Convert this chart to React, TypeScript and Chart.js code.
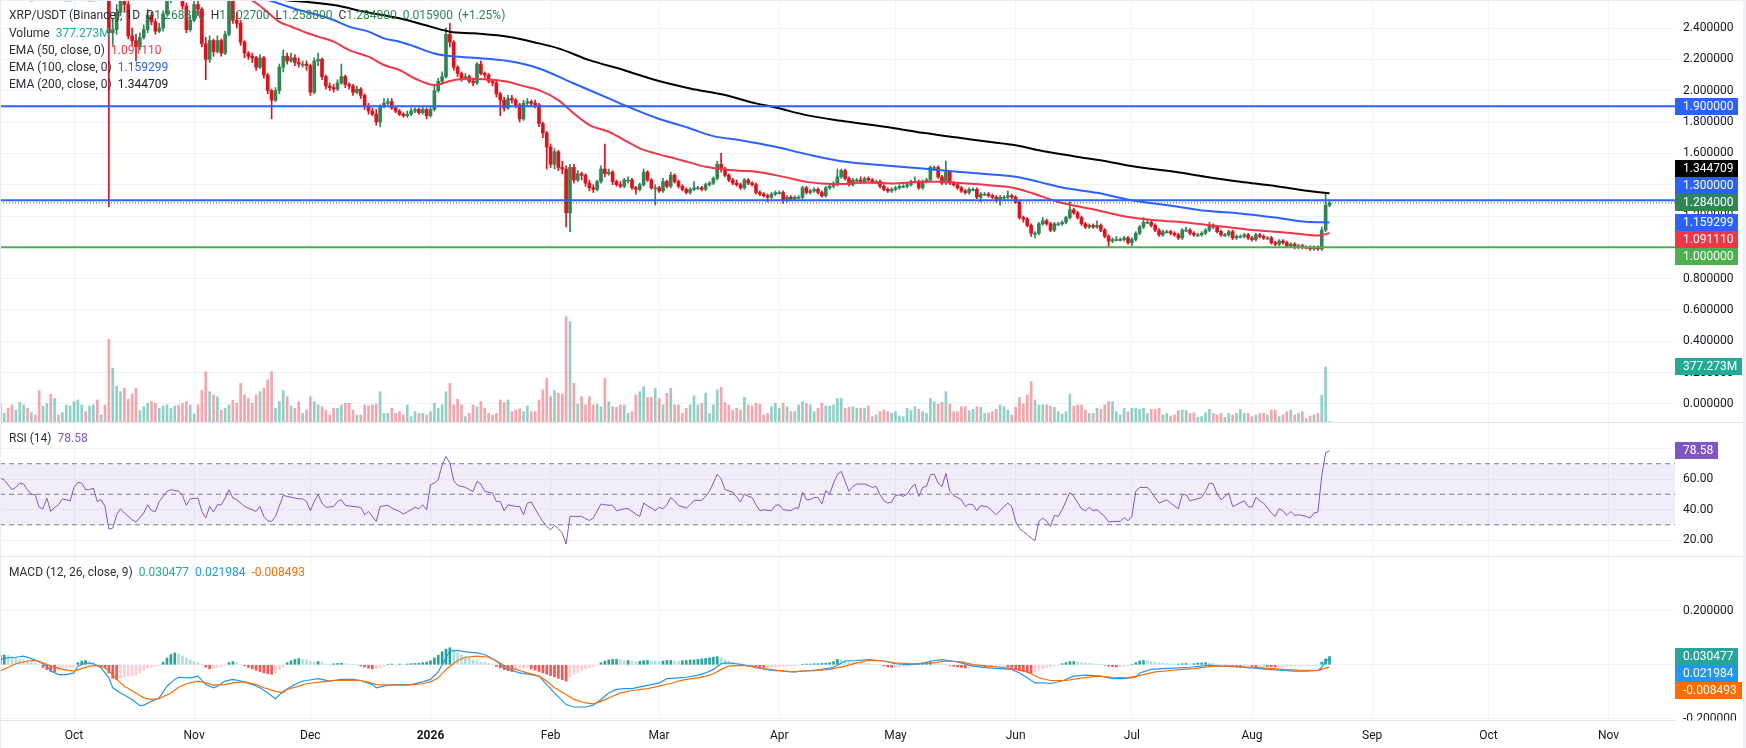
import React, { useEffect, useRef } from 'react';
import { Chart, registerables } from 'chart.js';

Chart.register(...registerables);

// ---------------- data (day 0 = 2025-10-01, first candle = 2025-09-12) ----------------
const FIRST_DAY = -19;
const FIRST_OPEN = 3.0;

const closes = [
  3.02, 3.07, 3.03, 2.98, 3.02, 3.05, 3.10, 2.98, 2.98, 2.95,
  2.85, 2.87, 2.93, 2.74, 2.82, 2.80, 2.85, 2.85, 2.85, 2.95,
  3.00, 3.02, 2.97, 2.97, 2.97, 2.82, 2.86, 2.83, 2.37, 2.39,
  2.50, 2.62, 2.55, 2.35, 2.32, 2.28, 2.34, 2.39, 2.48, 2.44,
  2.38, 2.40, 2.49, 2.58, 2.62, 2.65, 2.62, 2.54, 2.39, 2.45,
  2.55, 2.52, 2.30, 2.20, 2.32, 2.25, 2.32, 2.24, 2.36, 2.57,
  2.45, 2.43, 2.31, 2.24, 2.22, 2.21, 2.15, 2.21, 2.10, 2.00,
  1.94, 2.00, 2.15, 2.22, 2.19, 2.21, 2.18, 2.17, 2.17, 2.16,
  1.99, 2.19, 2.20, 2.09, 2.03, 2.02, 2.01, 2.05, 2.09, 2.04,
  2.03, 1.99, 2.01, 1.97, 1.90, 1.87, 1.85, 1.80, 1.90, 1.92,
  1.93, 1.89, 1.87, 1.85, 1.84, 1.85, 1.87, 1.88, 1.86, 1.88,
  1.84, 1.88, 2.00, 2.06, 2.09, 2.36, 2.31, 2.15, 2.11, 2.08,
  2.09, 2.06, 2.05, 2.17, 2.11, 2.10, 2.06, 2.05, 1.98, 1.94,
  1.89, 1.95, 1.94, 1.91, 1.82, 1.92, 1.93, 1.92, 1.91, 1.79,
  1.73, 1.64, 1.53, 1.61, 1.51, 1.50, 1.22, 1.51, 1.43, 1.47,
  1.46, 1.41, 1.38, 1.37, 1.42, 1.50, 1.47, 1.48, 1.42, 1.40,
  1.39, 1.43, 1.43, 1.38, 1.37, 1.40, 1.48, 1.43, 1.38, 1.38,
  1.36, 1.42, 1.39, 1.46, 1.42, 1.39, 1.37, 1.35, 1.37, 1.38,
  1.38, 1.37, 1.40, 1.41, 1.44, 1.53, 1.50, 1.46, 1.43, 1.41,
  1.40, 1.38, 1.43, 1.41, 1.40, 1.35, 1.34, 1.33, 1.32, 1.34,
  1.35, 1.35, 1.30, 1.32, 1.31, 1.32, 1.32, 1.38, 1.35, 1.36,
  1.37, 1.35, 1.33, 1.38, 1.39, 1.40, 1.45, 1.49, 1.44, 1.40,
  1.43, 1.43, 1.42, 1.44, 1.43, 1.42, 1.42, 1.39, 1.37, 1.36,
  1.37, 1.38, 1.39, 1.39, 1.40, 1.42, 1.42, 1.38, 1.42, 1.43,
  1.51, 1.51, 1.45, 1.41, 1.48, 1.41, 1.40, 1.38, 1.36, 1.35,
  1.37, 1.37, 1.32, 1.34, 1.34, 1.33, 1.32, 1.30, 1.32, 1.32,
  1.33, 1.32, 1.29, 1.19, 1.18, 1.14, 1.09, 1.09, 1.15, 1.17,
  1.15, 1.11, 1.15, 1.15, 1.16, 1.19, 1.24, 1.22, 1.19, 1.15,
  1.13, 1.14, 1.13, 1.14, 1.11, 1.07, 1.04, 1.05, 1.05, 1.05,
  1.06, 1.03, 1.05, 1.09, 1.13, 1.16, 1.16, 1.14, 1.11, 1.08,
  1.10, 1.10, 1.09, 1.08, 1.06, 1.11, 1.11, 1.09, 1.08, 1.08,
  1.09, 1.11, 1.14, 1.13, 1.10, 1.08, 1.08, 1.10, 1.06, 1.07,
  1.07, 1.08, 1.06, 1.05, 1.08, 1.07, 1.06, 1.06, 1.03, 1.02,
  1.04, 1.03, 1.01, 1.02, 1.00, 1.01, 1.00, 1.00, 0.99, 1.00,
  0.99, 1.11, 1.2688, 1.284,
];

const highs = [
  3.06, 3.10, 3.09, 3.05, 3.05, 3.08, 3.13, 3.12, 3.02, 3.00,
  2.97, 2.92, 2.96, 2.95, 2.85, 2.86, 2.88, 2.90, 2.89, 2.97,
  3.04, 3.06, 3.05, 3.01, 3.03, 2.99, 2.89, 2.88, 2.86, 2.46,
  2.55, 2.66, 2.65, 2.58, 2.40, 2.36, 2.37, 2.42, 2.52, 2.50,
  2.46, 2.43, 2.51, 2.62, 2.68, 2.70, 2.68, 2.64, 2.56, 2.48,
  2.62, 2.60, 2.53, 2.34, 2.35, 2.33, 2.35, 2.33, 2.38, 2.60,
  2.58, 2.50, 2.45, 2.32, 2.25, 2.24, 2.22, 2.23, 2.22, 2.11,
  2.01, 2.02, 2.17, 2.26, 2.24, 2.24, 2.23, 2.21, 2.19, 2.19,
  2.17, 2.21, 2.24, 2.21, 2.10, 2.05, 2.04, 2.07, 2.17, 2.10,
  2.05, 2.04, 2.03, 2.02, 1.98, 1.92, 1.89, 1.88, 1.91, 1.95,
  1.95, 1.95, 1.90, 1.88, 1.86, 1.87, 1.89, 1.89, 1.89, 1.90,
  1.89, 1.90, 2.03, 2.08, 2.12, 2.40, 2.43, 2.32, 2.16, 2.12,
  2.11, 2.10, 2.08, 2.18, 2.19, 2.12, 2.11, 2.07, 2.06, 1.99,
  1.96, 1.97, 1.97, 1.95, 1.92, 1.94, 1.95, 1.94, 1.94, 1.92,
  1.80, 1.74, 1.66, 1.63, 1.62, 1.55, 1.52, 1.53, 1.53, 1.49,
  1.48, 1.47, 1.43, 1.40, 1.43, 1.52, 1.66, 1.50, 1.49, 1.43,
  1.42, 1.44, 1.45, 1.44, 1.39, 1.41, 1.50, 1.49, 1.44, 1.40,
  1.39, 1.44, 1.43, 1.48, 1.47, 1.43, 1.40, 1.38, 1.38, 1.42,
  1.39, 1.39, 1.41, 1.42, 1.45, 1.55, 1.60, 1.51, 1.47, 1.44,
  1.43, 1.41, 1.44, 1.44, 1.42, 1.41, 1.36, 1.35, 1.34, 1.35,
  1.36, 1.36, 1.36, 1.33, 1.33, 1.33, 1.33, 1.39, 1.39, 1.37,
  1.38, 1.38, 1.36, 1.39, 1.40, 1.42, 1.50, 1.50, 1.50, 1.45,
  1.44, 1.44, 1.45, 1.45, 1.45, 1.44, 1.43, 1.43, 1.40, 1.38,
  1.38, 1.39, 1.40, 1.40, 1.41, 1.43, 1.45, 1.43, 1.43, 1.44,
  1.52, 1.52, 1.52, 1.46, 1.55, 1.49, 1.42, 1.41, 1.39, 1.37,
  1.38, 1.38, 1.38, 1.35, 1.35, 1.35, 1.34, 1.33, 1.33, 1.33,
  1.36, 1.34, 1.33, 1.30, 1.20, 1.19, 1.15, 1.10, 1.16, 1.19,
  1.18, 1.16, 1.16, 1.16, 1.17, 1.20, 1.29, 1.25, 1.23, 1.20,
  1.16, 1.15, 1.15, 1.17, 1.15, 1.12, 1.08, 1.06, 1.07, 1.06,
  1.07, 1.07, 1.06, 1.10, 1.14, 1.19, 1.18, 1.17, 1.15, 1.12,
  1.11, 1.11, 1.11, 1.10, 1.09, 1.12, 1.13, 1.12, 1.10, 1.09,
  1.10, 1.12, 1.16, 1.15, 1.14, 1.11, 1.09, 1.11, 1.11, 1.08,
  1.08, 1.09, 1.09, 1.07, 1.09, 1.09, 1.08, 1.07, 1.07, 1.04,
  1.05, 1.05, 1.04, 1.03, 1.03, 1.02, 1.02, 1.01, 1.01, 1.01,
  1.01, 1.13, 1.345, 1.3027,
];

const lows = [
  2.97, 3.00, 3.00, 2.95, 2.96, 3.00, 3.03, 2.95, 2.94, 2.91,
  2.80, 2.82, 2.84, 2.69, 2.71, 2.77, 2.78, 2.81, 2.80, 2.83,
  2.93, 2.97, 2.95, 2.93, 2.94, 2.80, 2.79, 2.78, 1.26, 2.29,
  2.36, 2.48, 2.50, 2.33, 2.29, 2.19, 2.26, 2.33, 2.37, 2.42,
  2.36, 2.37, 2.38, 2.48, 2.56, 2.60, 2.58, 2.52, 2.37, 2.38,
  2.44, 2.48, 2.28, 2.07, 2.18, 2.22, 2.24, 2.22, 2.23, 2.35,
  2.43, 2.40, 2.29, 2.21, 2.20, 2.18, 2.13, 2.14, 2.08, 1.98,
  1.82, 1.93, 1.98, 2.12, 2.17, 2.18, 2.16, 2.15, 2.15, 2.13,
  1.97, 1.98, 2.16, 2.07, 2.01, 2.00, 1.99, 2.00, 2.04, 2.02,
  2.01, 1.97, 1.98, 1.95, 1.88, 1.85, 1.84, 1.78, 1.77, 1.89,
  1.91, 1.88, 1.86, 1.84, 1.83, 1.83, 1.84, 1.86, 1.85, 1.85,
  1.82, 1.83, 1.87, 1.99, 2.04, 2.08, 2.28, 2.13, 2.09, 2.06,
  2.07, 2.05, 2.03, 2.04, 2.10, 2.08, 2.05, 2.03, 1.96, 1.84,
  1.87, 1.88, 1.92, 1.89, 1.80, 1.81, 1.90, 1.90, 1.89, 1.77,
  1.70, 1.50, 1.51, 1.50, 1.49, 1.47, 1.13, 1.10, 1.41, 1.42,
  1.43, 1.39, 1.36, 1.35, 1.36, 1.41, 1.45, 1.46, 1.40, 1.39,
  1.38, 1.38, 1.41, 1.37, 1.34, 1.36, 1.39, 1.42, 1.37, 1.27,
  1.35, 1.35, 1.38, 1.38, 1.41, 1.38, 1.36, 1.34, 1.34, 1.36,
  1.37, 1.36, 1.36, 1.39, 1.40, 1.43, 1.48, 1.45, 1.42, 1.40,
  1.39, 1.37, 1.37, 1.40, 1.39, 1.34, 1.33, 1.32, 1.29, 1.31,
  1.33, 1.34, 1.28, 1.29, 1.30, 1.30, 1.31, 1.31, 1.34, 1.34,
  1.35, 1.34, 1.32, 1.32, 1.37, 1.38, 1.39, 1.44, 1.43, 1.39,
  1.39, 1.42, 1.41, 1.41, 1.42, 1.41, 1.41, 1.38, 1.36, 1.35,
  1.35, 1.36, 1.37, 1.38, 1.38, 1.39, 1.41, 1.37, 1.37, 1.41,
  1.42, 1.49, 1.44, 1.40, 1.40, 1.40, 1.39, 1.37, 1.35, 1.34,
  1.34, 1.36, 1.31, 1.29, 1.33, 1.32, 1.31, 1.29, 1.27, 1.30,
  1.31, 1.31, 1.28, 1.18, 1.16, 1.13, 1.07, 1.06, 1.08, 1.14,
  1.14, 1.10, 1.10, 1.14, 1.14, 1.15, 1.18, 1.21, 1.18, 1.14,
  1.12, 1.12, 1.12, 1.12, 1.10, 1.06, 1.00, 1.03, 1.04, 1.04,
  1.04, 1.02, 1.01, 1.04, 1.08, 1.12, 1.15, 1.13, 1.10, 1.07,
  1.07, 1.09, 1.08, 1.07, 1.05, 1.05, 1.10, 1.08, 1.07, 1.07,
  1.07, 1.08, 1.10, 1.12, 1.09, 1.07, 1.07, 1.07, 1.05, 1.05,
  1.06, 1.06, 1.05, 1.04, 1.04, 1.06, 1.05, 1.05, 1.02, 1.01,
  1.01, 1.02, 1.00, 1.00, 0.99, 0.99, 0.99, 0.99, 0.98, 0.98,
  0.98, 0.98, 1.10, 1.2588,
];

// volume, millions
const volumes = [
  124, 59, 94, 117, 82, 133, 117, 94, 64, 48,
  215, 110, 128, 192, 162, 48, 64, 117, 110, 140,
  151, 117, 71, 110, 117, 151, 48, 117, 567, 368,
  247, 208, 231, 156, 192, 231, 78, 105, 128, 140,
  128, 94, 110, 117, 94, 110, 117, 128, 140, 117,
  55, 117, 215, 345, 208, 185, 174, 82, 94, 117,
  150, 128, 265, 185, 162, 128, 185, 208, 231, 288,
  345, 94, 140, 215, 174, 110, 94, 140, 59, 82,
  174, 140, 117, 105, 82, 48, 94, 94, 117, 128,
  128, 82, 48, 48, 117, 110, 117, 123, 208, 59,
  59, 94, 59, 71, 48, 117, 37, 71, 59, 59,
  48, 71, 128, 94, 117, 208, 265, 117, 156, 117,
  37, 59, 117, 105, 140, 94, 59, 48, 59, 151,
  133, 151, 71, 82, 90, 71, 110, 71, 71, 151,
  220, 300, 174, 215, 197, 192, 723, 688, 265, 123,
  174, 117, 174, 117, 123, 105, 300, 140, 105, 101,
  117, 117, 59, 71, 185, 208, 242, 169, 169, 231,
  162, 117, 197, 231, 117, 117, 59, 94, 117, 178,
  117, 128, 197, 59, 117, 220, 238, 133, 117, 82,
  94, 82, 169, 117, 110, 128, 123, 48, 59, 105,
  128, 94, 128, 105, 71, 71, 117, 140, 128, 117,
  71, 94, 128, 110, 110, 117, 162, 162, 94, 101,
  105, 94, 94, 94, 110, 37, 48, 71, 82, 71,
  59, 71, 41, 37, 94, 78, 105, 87, 71, 59,
  162, 140, 123, 133, 208, 123, 71, 71, 105, 105,
  78, 87, 105, 101, 59, 64, 71, 87, 117, 105,
  82, 48, 101, 169, 123, 185, 277, 151, 117, 117,
  117, 110, 101, 71, 55, 71, 192, 110, 117, 117,
  82, 59, 59, 94, 87, 117, 140, 140, 71, 48,
  94, 71, 94, 94, 87, 94, 59, 87, 87, 94,
  48, 59, 41, 48, 78, 82, 78, 59, 64, 32,
  37, 64, 87, 59, 48, 59, 32, 59, 48, 59,
  87, 59, 59, 37, 48, 59, 59, 48, 82, 82,
  37, 48, 71, 82, 48, 59, 71, 25, 41, 48,
  59, 185, 377.273, 3,
];

// EMA lines: [day, value]
const ema50: [number, number][] = [
  [-19, 2.80], [0, 2.76], [20, 2.70], [35, 2.64], [44, 2.60], [47, 2.56], [50, 2.50], [53, 2.44],
  [56, 2.41], [60, 2.37], [63, 2.345], [67, 2.313], [71, 2.259], [76, 2.217], [80, 2.164], [84, 2.132],
  [88, 2.078], [93, 2.036], [97, 2.062], [101, 2.076], [107, 2.072], [112, 2.057], [116, 2.029],
  [120, 2.004], [125, 1.940], [129, 1.855], [133, 1.781], [138, 1.738], [142, 1.685], [146, 1.632],
  [150, 1.600], [155, 1.568], [159, 1.541], [163, 1.514], [168, 1.497], [172, 1.489], [176, 1.482],
  [181, 1.461], [185, 1.440], [189, 1.418], [193, 1.408], [198, 1.404], [202, 1.412], [206, 1.412],
  [211, 1.408], [219, 1.418], [224, 1.418], [228, 1.412], [236, 1.397], [242, 1.382], [247, 1.348],
  [254, 1.290], [262, 1.248], [273, 1.190], [279, 1.173], [288, 1.156], [297, 1.131], [305, 1.109],
  [314, 1.092], [321, 1.075], [324, 1.09111],
];
const ema100: [number, number][] = [
  [-19, 2.75], [20, 2.68], [40, 2.61], [50, 2.579], [54, 2.547], [58, 2.515], [63, 2.483],
  [67, 2.451], [71, 2.409], [76, 2.377], [80, 2.334], [84, 2.313], [88, 2.281], [93, 2.238],
  [97, 2.221], [103, 2.210], [112, 2.189], [120, 2.142], [129, 2.046], [138, 1.951], [142, 1.908],
  [150, 1.829], [159, 1.759], [165, 1.710], [172, 1.684], [181, 1.642], [189, 1.595], [198, 1.550],
  [211, 1.520], [219, 1.503], [228, 1.482], [236, 1.467], [243, 1.450], [249, 1.418], [255, 1.382],
  [264, 1.348], [273, 1.301], [284, 1.263], [292, 1.233], [301, 1.216], [310, 1.190], [318, 1.163],
  [324, 1.159299],
];
const ema200: [number, number][] = [
  [-19, 2.66], [0, 2.645], [20, 2.625], [40, 2.60], [54, 2.579], [67, 2.547], [75, 2.504],
  [84, 2.462], [92, 2.409], [97, 2.377], [103, 2.366], [112, 2.345], [120, 2.302], [125, 2.270],
  [133, 2.195], [142, 2.131], [150, 2.068], [159, 2.014], [168, 1.972], [176, 1.919], [181, 1.893],
  [189, 1.844], [198, 1.808], [211, 1.763], [219, 1.731], [228, 1.701], [236, 1.674], [243, 1.652],
  [249, 1.620], [258, 1.582], [267, 1.546], [274, 1.514], [284, 1.482], [292, 1.450], [301, 1.418],
  [310, 1.391], [318, 1.361], [324, 1.344709],
];

// RSI(14): [day, value]
const rsi: [number, number][] = [
  [-19, 60.6], [-18, 59.5], [-16, 53.0], [-15, 54.5], [-14, 57.3], [-13, 56.7], [-12, 53.0], [-11, 50.1],
  [-10, 49.7], [-9, 41.4], [-8, 40.5], [-7, 47.5], [-6, 38.7], [-5, 41.4], [-4, 43.1], [-3, 47.0],
  [-1, 45.7], [0, 54.5], [1, 57.8], [2, 57.3], [3, 53.0], [4, 53.0], [5, 54.0], [6, 45.3], [7, 46.4],
  [8, 42.0], [9, 27.2], [10, 27.8], [11, 36.6], [12, 40.5], [13, 37.7], [15, 33.3], [16, 31.7],
  [18, 37.7], [19, 43.1], [20, 39.2], [21, 38.7], [22, 45.3], [24, 51.9], [25, 53.0], [27, 51.9],
  [28, 49.2], [29, 42.7], [30, 47.0], [32, 47.5], [33, 38.7], [34, 34.4], [35, 42.0], [36, 38.3],
  [37, 43.1], [38, 43.1], [39, 47.5], [40, 53.0], [41, 47.5], [42, 46.4], [44, 42.0], [45, 40.9],
  [47, 38.7], [48, 42.0], [49, 35.5], [50, 32.6], [51, 32.2], [52, 35.5], [54, 49.2], [55, 48.6],
  [57, 47.5], [58, 47.0], [59, 47.0], [60, 45.3], [61, 39.2], [62, 45.3], [63, 49.7], [64, 44.2],
  [65, 41.4], [67, 42.0], [68, 45.3], [69, 46.4], [70, 42.7], [72, 42.0], [74, 41.4], [75, 36.6],
  [76, 38.7], [78, 32.2], [79, 42.0], [81, 42.7], [82, 40.9], [84, 38.7], [85, 37.0], [87, 39.8],
  [88, 41.4], [89, 40.5], [90, 43.1], [91, 39.8], [92, 56.2], [93, 57.3], [94, 59.5], [95, 69.3],
  [96, 74.8], [97, 70.4], [98, 58.9], [99, 55.8], [101, 54.5], [102, 53.0], [103, 51.9], [104, 58.4],
  [105, 56.7], [106, 51.9], [108, 50.8], [109, 45.3], [110, 45.3], [111, 39.2], [112, 43.1],
  [114, 42.0], [115, 42.0], [116, 36.6], [117, 44.2], [118, 44.9], [120, 36.1], [121, 32.2],
  [122, 28.9], [123, 26.7], [124, 29.6], [125, 27.4], [126, 24.5], [127, 17.3], [128, 35.5],
  [129, 35.5], [131, 35.5], [132, 34.0], [133, 32.8], [134, 34.4], [136, 43.6], [137, 43.1],
  [139, 42.7], [140, 39.2], [142, 40.5], [143, 40.5], [145, 37.0], [146, 35.5], [147, 44.2],
  [149, 40.9], [150, 39.2], [151, 41.4], [152, 40.5], [153, 43.1], [154, 47.9], [155, 45.7],
  [156, 42.7], [158, 40.9], [159, 43.1], [160, 46.0], [162, 46.0], [163, 48.6], [164, 51.9],
  [166, 63.2], [167, 60.2], [168, 53.0], [170, 51.4], [172, 44.9], [173, 50.1], [174, 48.6],
  [175, 47.9], [176, 43.1], [177, 39.2], [178, 39.8], [180, 39.2], [181, 42.7], [182, 43.1],
  [183, 39.8], [185, 39.2], [186, 40.9], [187, 40.9], [188, 51.4], [189, 46.4], [190, 46.4],
  [191, 47.9], [192, 47.9], [193, 43.6], [194, 52.3], [195, 50.1], [196, 57.3], [197, 62.8],
  [198, 65.0], [199, 58.4], [200, 51.9], [201, 55.1], [202, 56.7], [204, 56.7], [205, 55.8],
  [206, 54.5], [207, 55.1], [208, 49.7], [209, 45.7], [210, 44.2], [211, 44.9], [212, 49.2],
  [213, 49.7], [214, 48.6], [215, 50.1], [216, 54.0], [217, 56.7], [218, 48.6], [219, 54.5],
  [220, 55.1], [221, 62.8], [222, 63.2], [223, 57.3], [224, 55.1], [225, 63.7], [226, 51.9],
  [227, 49.2], [229, 46.4], [230, 42.0], [231, 43.6], [232, 43.1], [233, 39.2], [234, 42.7],
  [236, 41.4], [238, 36.6], [239, 39.2], [240, 42.0], [241, 44.2], [242, 42.0], [243, 32.2],
  [244, 27.4], [245, 25.6], [246, 23.5], [247, 21.3], [248, 19.5], [249, 32.2], [250, 34.4],
  [251, 32.2], [252, 28.9], [253, 36.1], [254, 35.5], [255, 39.8], [257, 51.2], [258, 48.6],
  [260, 40.5], [261, 39.2], [262, 41.4], [263, 39.2], [264, 39.8], [266, 35.5], [267, 31.7],
  [268, 32.2], [270, 32.2], [271, 34.8], [272, 32.6], [273, 35.5], [274, 51.9], [275, 54.5],
  [277, 54.5], [278, 51.4], [280, 44.2], [281, 45.3], [282, 46.4], [283, 44.2], [285, 40.5],
  [286, 49.7], [287, 49.7], [288, 45.7], [289, 46.4], [291, 47.9], [292, 51.9], [293, 57.3],
  [294, 56.7], [295, 50.1], [296, 46.4], [297, 48.6], [298, 50.8], [299, 42.0], [300, 43.1],
  [302, 45.7], [303, 42.0], [304, 41.4], [305, 47.9], [306, 45.7], [307, 44.2], [309, 37.7],
  [310, 35.5], [311, 40.5], [312, 39.2], [313, 36.1], [314, 38.7], [315, 36.1], [316, 36.6],
  [318, 35.5], [319, 34.4], [320, 37.7], [321, 38.3], [322, 62.0], [323, 77.2], [324, 78.58],
];

// MACD(12,26,9) lines: [day, value]
const macdLine: [number, number][] = [
  [-19, 0.020], [-17, 0.026], [-15, 0.028], [-13, 0.032], [-11, 0.023], [-9, 0.011], [-7, -0.005],
  [-6, -0.023], [-4, -0.036], [-2, -0.036], [0, -0.030], [1, -0.005], [3, 0.007], [5, 0.004],
  [7, -0.011], [9, -0.048], [10, -0.085], [12, -0.104], [15, -0.128], [17, -0.151], [18, -0.149],
  [20, -0.135], [22, -0.122], [24, -0.079], [26, -0.054], [27, -0.046], [30, -0.048], [32, -0.042],
  [34, -0.073], [36, -0.085], [37, -0.079], [39, -0.060], [41, -0.054], [44, -0.063], [46, -0.073],
  [48, -0.085], [50, -0.104], [52, -0.125], [54, -0.098], [57, -0.073], [59, -0.060], [60, -0.058],
  [63, -0.051], [66, -0.060], [69, -0.054], [72, -0.054], [74, -0.058], [77, -0.073], [78, -0.085],
  [81, -0.075], [84, -0.073], [87, -0.073], [90, -0.063], [92, -0.054], [94, -0.026], [96, 0.026],
  [97, 0.051], [99, 0.053], [101, 0.048], [104, 0.044], [106, 0.038], [109, 0.014], [111, -0.011],
  [113, -0.021], [115, -0.030], [118, -0.036], [120, -0.042], [122, -0.073], [124, -0.104],
  [127, -0.147], [129, -0.156], [132, -0.156], [134, -0.149], [136, -0.128], [138, -0.104],
  [140, -0.091], [142, -0.088], [144, -0.088], [147, -0.079], [149, -0.073], [151, -0.067],
  [153, -0.051], [156, -0.048], [158, -0.046], [161, -0.038], [163, -0.030], [165, -0.017],
  [167, 0.004], [168, 0.007], [171, 0.004], [173, -0.001], [176, -0.011], [180, -0.021],
  [183, -0.023], [186, -0.026], [190, -0.021], [193, -0.017], [196, -0.009], [199, 0.014],
  [202, 0.016], [205, 0.019], [209, 0.014], [212, 0.004], [215, 0.001], [219, 0.004], [221, 0.014],
  [224, 0.019], [228, 0.011], [232, -0.005], [236, -0.011], [239, -0.014], [242, -0.017],
  [244, -0.030], [246, -0.048], [248, -0.067], [250, -0.067], [252, -0.069], [255, -0.060],
  [258, -0.042], [261, -0.038], [265, -0.042], [268, -0.051], [271, -0.051], [274, -0.046],
  [275, -0.030], [278, -0.017], [281, -0.014], [285, -0.011], [288, -0.009], [293, -0.001],
  [296, -0.005], [299, -0.007], [304, -0.011], [308, -0.017], [312, -0.021], [315, -0.023],
  [318, -0.023], [321, -0.021], [322, -0.010], [323, 0.013], [324, 0.021984],
];
const signalLine: [number, number][] = [
  [-19, -0.023], [-17, -0.009], [-15, 0.004], [-12, 0.014], [-10, 0.016], [-8, 0.007], [-6, -0.005],
  [-3, -0.017], [0, -0.023], [2, -0.014], [4, -0.005], [6, -0.002], [8, -0.011], [10, -0.036],
  [11, -0.054], [13, -0.079], [16, -0.104], [18, -0.122], [20, -0.128], [22, -0.125], [25, -0.104],
  [27, -0.083], [29, -0.070], [32, -0.060], [34, -0.067], [36, -0.075], [39, -0.073], [41, -0.067],
  [44, -0.063], [47, -0.073], [49, -0.085], [52, -0.098], [54, -0.104], [55, -0.091], [58, -0.079],
  [60, -0.070], [64, -0.063], [67, -0.058], [71, -0.057], [74, -0.058], [76, -0.064], [78, -0.073],
  [82, -0.075], [86, -0.075], [90, -0.070], [92, -0.063], [94, -0.048], [96, -0.017], [99, 0.016],
  [101, 0.028], [104, 0.032], [107, 0.028], [110, 0.007], [112, -0.011], [115, -0.021],
  [117, -0.030], [120, -0.042], [122, -0.060], [124, -0.085], [127, -0.110], [129, -0.128],
  [132, -0.141], [134, -0.144], [136, -0.135], [139, -0.116], [141, -0.104], [144, -0.095],
  [148, -0.088], [151, -0.079], [154, -0.069], [156, -0.060], [158, -0.054], [161, -0.048],
  [163, -0.042], [165, -0.033], [167, -0.017], [169, -0.005], [172, -0.002], [175, -0.005],
  [178, -0.014], [182, -0.021], [185, -0.026], [188, -0.023], [192, -0.021], [195, -0.017],
  [199, -0.005], [202, 0.007], [205, 0.016], [209, 0.014], [212, 0.007], [216, 0.004], [221, 0.006],
  [225, 0.014], [229, 0.011], [232, 0.001], [236, -0.005], [239, -0.009], [242, -0.014],
  [246, -0.026], [249, -0.048], [252, -0.058], [256, -0.058], [259, -0.051], [264, -0.042],
  [268, -0.046], [272, -0.048], [276, -0.036], [279, -0.026], [283, -0.021], [286, -0.017],
  [289, -0.014], [294, -0.005], [298, -0.005], [303, -0.009], [307, -0.011], [312, -0.017],
  [316, -0.020], [321, -0.021], [322, -0.017], [323, -0.012], [324, -0.008493],
];
// MACD histogram, one value per candle
const macdHist = [
  0.035, 0.036, 0.035, 0.030, 0.025, 0.020, 0.018, 0.014, 0.010, 0.006,
  0.002, -0.010, -0.018, -0.025, -0.026, -0.020, -0.015, -0.012, -0.010, -0.006,
  0.008, 0.014, 0.016, 0.012, 0.008, -0.002, -0.006, -0.012, -0.030, -0.050,
  -0.054, -0.050, -0.045, -0.042, -0.040, -0.038, -0.030, -0.020, -0.012, -0.008,
  -0.004, -0.002, 0.010, 0.025, 0.038, 0.044, 0.040, 0.032, 0.025, 0.018,
  0.012, 0.008, 0.003, -0.008, -0.015, -0.012, -0.010, -0.006, -0.002, 0.008,
  0.012, 0.008, 0.002, -0.004, -0.010, -0.015, -0.020, -0.025, -0.030, -0.033,
  -0.035, -0.030, -0.018, -0.008, 0.008, 0.015, 0.020, 0.023, 0.020, 0.018,
  0.012, 0.010, 0.012, 0.008, 0.003, 0.002, 0.004, 0.005, 0.006, 0.004,
  0.003, 0.002, 0.000, -0.004, -0.008, -0.012, -0.015, -0.014, -0.010, -0.005,
  0.002, 0.003, 0.002, 0.003, 0.002, 0.003, 0.004, 0.005, 0.006, 0.008,
  0.010, 0.015, 0.025, 0.035, 0.048, 0.058, 0.063, 0.055, 0.045, 0.038,
  0.030, 0.024, 0.018, 0.014, 0.010, 0.008, 0.005, 0.002, -0.006, -0.012,
  -0.018, -0.022, -0.025, -0.020, -0.015, -0.012, -0.010, -0.015, -0.020, -0.025,
  -0.030, -0.035, -0.040, -0.045, -0.050, -0.055, -0.060, -0.045, -0.035, -0.028,
  -0.022, -0.016, -0.010, -0.006, -0.002, 0.008, 0.014, 0.018, 0.020, 0.020,
  0.018, 0.016, 0.016, 0.014, 0.012, 0.013, 0.015, 0.016, 0.014, 0.013,
  0.012, 0.014, 0.016, 0.016, 0.014, 0.013, 0.015, 0.016, 0.018, 0.018,
  0.020, 0.022, 0.024, 0.026, 0.028, 0.030, 0.026, 0.020, 0.014, 0.010,
  0.006, 0.004, 0.002, 0.000, -0.002, -0.005, -0.008, -0.010, -0.010, -0.009,
  -0.008, -0.007, -0.006, -0.005, -0.004, -0.003, -0.002, 0.002, 0.003, 0.003,
  0.004, 0.004, 0.005, 0.006, 0.008, 0.012, 0.020, 0.018, 0.016, 0.012,
  0.010, 0.008, 0.006, 0.005, 0.004, 0.003, 0.002, 0.000, -0.004, -0.008,
  -0.010, -0.010, -0.008, -0.006, -0.004, -0.002, 0.003, 0.006, 0.008, 0.010,
  0.010, 0.008, 0.006, 0.004, 0.002, -0.002, -0.005, -0.008, -0.010, -0.012,
  -0.012, -0.010, -0.008, -0.008, -0.010, -0.009, -0.008, -0.007, -0.006, -0.006,
  -0.008, -0.010, -0.015, -0.020, -0.025, -0.028, -0.030, -0.026, -0.020, -0.015,
  -0.010, -0.008, -0.005, -0.002, 0.004, 0.008, 0.012, 0.012, 0.010, 0.008,
  0.006, 0.005, 0.004, 0.003, 0.001, -0.002, -0.005, -0.007, -0.008, -0.008,
  -0.006, -0.004, 0.002, 0.008, 0.014, 0.016, 0.015, 0.012, 0.010, 0.008,
  0.006, 0.005, 0.004, 0.003, 0.003, 0.004, 0.005, 0.004, 0.004, 0.006,
  0.007, 0.008, 0.007, 0.005, 0.003, 0.001, -0.001, -0.002, -0.004, -0.005,
  -0.006, -0.006, -0.005, -0.006, -0.007, -0.006, -0.005, -0.006, -0.007, -0.008,
  -0.008, -0.007, -0.006, -0.005, -0.004, -0.004, -0.003, -0.003, -0.002, -0.002,
  -0.001, 0.010, 0.022, 0.030477,
];

// horizontal levels and last values shown in legends / axis tags
const levelValues = [1.9, 1.3, 1.0];
const levelColors = ['#2962ff', '#2962ff', '#4caf50'];
const LAST_OHLC = { open: 1.2688, high: 1.3027, low: 1.2588, close: 1.284 };
const LAST_CHANGE = 0.0159;
const LAST_CHANGE_PCT = 1.25;
const LAST_VOLUME_TEXT = '377.273M';

const monthTickDays = [0, 31, 61, 92, 123, 151, 182, 212, 243, 273, 304, 335, 365, 396];
const monthTickLabels = ['Oct', 'Nov', 'Dec', '2026', 'Feb', 'Mar', 'Apr', 'May', 'Jun', 'Jul', 'Aug', 'Sep', 'Oct', 'Nov'];
const priceTicks = [0, 0.2, 0.4, 0.6, 0.8, 1.0, 1.2, 1.4, 1.6, 1.8, 2.0, 2.2, 2.4];
const rsiTicks = [20, 40, 60, 80];
const rsiLevels = [70, 50, 30];
const macdTicks = [-0.2, 0, 0.2];

// ---------------- view / style ----------------
const W = 1746;
const AXIS_W = 71;
const X_MIN = -19.097;
const X_MAX = 413.16;
const PRICE_MIN = -0.115;
const PRICE_MAX = 2.579;
const VOL_MAX = 2894.7;
const RSI_MIN = 9.51;
const RSI_MAX = 96.72;
const MACD_MIN = -0.204;
const MACD_MAX = 0.3985;

const FONT = 'Roboto, "Liberation Sans", sans-serif';
const GRID = '#f0f3fa';
const TEXT = '#131722';
const UP = '#2d8654';
const DOWN = '#e3101a';
const VOL_UP = 'rgba(8,153,129,0.45)';
const VOL_DOWN = 'rgba(242,54,69,0.45)';

const dayIndex = closes.map((_, i) => FIRST_DAY + i);
const opens = closes.map((_, i) => (i === 0 ? FIRST_OPEN : closes[i - 1]));
const isUp = closes.map((c, i) => c >= opens[i]);
const candleColors = isUp.map((u) => (u ? UP : DOWN));

function xAxis(showLabels: boolean): any {
  return {
    type: 'linear',
    min: X_MIN,
    max: X_MAX,
    offset: false,
    grid: { color: GRID, drawTicks: false, offset: false, lineWidth: 1 },
    border: { display: showLabels, color: '#e0e3eb' },
    ticks: {
      display: showLabels,
      padding: 9,
      color: TEXT,
      autoSkip: false,
      maxRotation: 0,
      font: (ctx: any) => ({
        family: FONT,
        size: 12,
        weight: ctx.tick && ctx.tick.value === 92 ? 'bold' : 'normal',
      }),
      callback: (v: any) => {
        const i = monthTickDays.indexOf(Number(v));
        return i >= 0 ? monthTickLabels[i] : '';
      },
    },
    afterBuildTicks: (s: any) => {
      s.ticks = monthTickDays.map((v) => ({ value: v }));
    },
    afterFit: (s: any) => {
      s.height = showLabels ? 28 : 0;
      s.paddingLeft = 0;
      s.paddingRight = 0;
    },
  };
}

function yAxis(min: number, max: number, ticks: number[], digits: number): any {
  return {
    type: 'linear',
    position: 'right',
    min,
    max,
    grid: { color: GRID, drawTicks: false },
    border: { display: false },
    ticks: {
      padding: 8,
      color: TEXT,
      autoSkip: false,
      font: { family: FONT, size: 12 },
      callback: (v: any) => Number(v).toFixed(digits),
    },
    afterBuildTicks: (s: any) => {
      s.ticks = ticks.map((v) => ({ value: v }));
    },
    afterFit: (s: any) => {
      s.width = AXIS_W;
      s.paddingTop = 0;
      s.paddingBottom = 0;
    },
  };
}

function pairLine(points: [number, number][], color: string, width: number, order: number, extra: any = {}): any {
  return {
    type: 'line',
    data: points.map(([x, y]) => ({ x, y })),
    borderColor: color,
    borderWidth: width,
    pointRadius: 0,
    fill: false,
    order,
    yAxisID: 'y',
    ...extra,
  };
}

function levelLine(value: number, color: string, width: number, order: number, dash: number[] = []): any {
  return {
    type: 'line',
    data: [
      { x: X_MIN, y: value },
      { x: X_MAX, y: value },
    ],
    borderColor: color,
    borderWidth: width,
    borderDash: dash,
    pointRadius: 0,
    fill: false,
    order,
    yAxisID: 'y',
  };
}

interface AxisTag {
  value: number;
  scale: string;
  text: string;
  bg: string;
  anchor?: boolean;
}

function tagPlugin(groups: AxisTag[][], coverBelow: boolean): any {
  return {
    id: 'axisTags',
    afterDraw(chart: any) {
      const { ctx, chartArea } = chart;
      ctx.save();
      if (coverBelow) {
        ctx.fillStyle = '#ffffff';
        ctx.fillRect(chartArea.right, chartArea.bottom + 0.5, chart.width - chartArea.right, chart.height - chartArea.bottom);
      }
      ctx.font = `12px ${FONT}`;
      ctx.textBaseline = 'middle';
      ctx.textAlign = 'left';
      const H = 17;
      for (const group of groups) {
        const items = group.map((t) => ({ t, y: chart.scales[t.scale].getPixelForValue(t.value) }));
        items.sort((a, b) => a.y - b.y);
        let ai = items.findIndex((it) => it.t.anchor);
        if (ai < 0) ai = 0;
        const pos = items.map((it) => it.y);
        for (let i = ai - 1; i >= 0; i--) pos[i] = Math.min(items[i].y, pos[i + 1] - H);
        for (let i = ai + 1; i < items.length; i++) pos[i] = Math.max(items[i].y, pos[i - 1] + H);
        items.forEach((it, i) => {
          const w = Math.round(ctx.measureText(it.t.text).width + 13);
          const x = chartArea.right;
          const top = Math.round(pos[i] - H / 2);
          ctx.fillStyle = it.t.bg;
          ctx.fillRect(x, top, w, H);
          ctx.fillStyle = '#ffffff';
          ctx.fillText(it.t.text, x + 8, top + H / 2 + 0.5);
        });
      }
      ctx.restore();
    },
  };
}

const baseOptions: any = {
  responsive: false,
  maintainAspectRatio: false,
  animation: false,
  devicePixelRatio: 1,
  events: [],
  layout: { padding: 0 },
  plugins: { legend: { display: false }, tooltip: { enabled: false } },
};

function makePriceChart(canvas: HTMLCanvasElement) {
  const n = Math.min(closes.length, highs.length, lows.length, volumes.length);
  const idx = dayIndex.slice(0, n);
  const ema50Last = ema50[ema50.length - 1][1];
  const ema100Last = ema100[ema100.length - 1][1];
  const ema200Last = ema200[ema200.length - 1][1];
  const lastVol = volumes[n - 2];
  return new Chart(canvas, {
    type: 'bar',
    data: {
      datasets: [
        {
          type: 'bar',
          yAxisID: 'yv',
          data: idx.map((d, i) => ({ x: d, y: volumes[i] })),
          backgroundColor: idx.map((_, i) => (isUp[i] ? VOL_UP : VOL_DOWN)),
          barThickness: 2,
          grouped: false,
          borderWidth: 0,
          order: 10,
        },
        {
          type: 'bar',
          yAxisID: 'y',
          data: idx.map((d, i) => ({
            x: d,
            y: [Math.min(lows[i], opens[i], closes[i]), Math.max(highs[i], opens[i], closes[i])],
          })),
          backgroundColor: candleColors.slice(0, n),
          barThickness: 1,
          grouped: false,
          borderWidth: 0,
          order: 9,
        },
        {
          type: 'bar',
          yAxisID: 'y',
          data: idx.map((d, i) => ({ x: d, y: [opens[i], closes[i]] })),
          backgroundColor: candleColors.slice(0, n),
          barThickness: 3,
          minBarLength: 1,
          grouped: false,
          borderWidth: 0,
          order: 8,
        },
        pairLine(ema200, '#000000', 2, 7, { cubicInterpolationMode: 'monotone' }),
        pairLine(ema100, '#2962ff', 2, 6, { cubicInterpolationMode: 'monotone' }),
        pairLine(ema50, '#f23645', 2, 5, { cubicInterpolationMode: 'monotone' }),
        ...levelValues.map((v, i) => levelLine(v, levelColors[i], 2, 3)),
        levelLine(LAST_OHLC.close, '#4a5e55', 1, 4, [1, 2]),
      ],
    },
    options: {
      ...baseOptions,
      scales: {
        x: xAxis(false),
        y: yAxis(PRICE_MIN, PRICE_MAX, priceTicks, 6),
        yv: { type: 'linear', display: false, min: 0, max: VOL_MAX },
      },
    },
    plugins: [
      tagPlugin(
        [
          [
            { value: levelValues[0], scale: 'y', text: levelValues[0].toFixed(6), bg: levelColors[0] },
            { value: ema200Last, scale: 'y', text: ema200Last.toFixed(6), bg: '#000000' },
            { value: levelValues[1], scale: 'y', text: levelValues[1].toFixed(6), bg: levelColors[1] },
            { value: LAST_OHLC.close, scale: 'y', text: LAST_OHLC.close.toFixed(6), bg: UP, anchor: true },
            { value: ema100Last, scale: 'y', text: ema100Last.toFixed(6), bg: '#2962ff' },
            { value: ema50Last, scale: 'y', text: ema50Last.toFixed(6), bg: '#f23645' },
            { value: levelValues[2], scale: 'y', text: levelValues[2].toFixed(6), bg: levelColors[2] },
          ],
          [{ value: lastVol, scale: 'yv', text: LAST_VOLUME_TEXT, bg: '#22ab94' }],
        ],
        false
      ),
    ],
  } as any);
}

function makeRsiChart(canvas: HTMLCanvasElement) {
  const last = rsi[rsi.length - 1][1];
  return new Chart(canvas, {
    type: 'line',
    data: {
      datasets: [
        {
          ...levelLine(rsiLevels[0], '#787b86', 1, 6, [5, 4]),
          fill: { value: rsiLevels[2] },
          backgroundColor: 'rgba(126,87,194,0.1)',
        },
        levelLine(rsiLevels[1], '#787b86', 1, 5, [5, 4]),
        levelLine(rsiLevels[2], '#787b86', 1, 4, [5, 4]),
        pairLine(rsi, '#7e57c2', 1, 1),
      ],
    },
    options: {
      ...baseOptions,
      scales: { x: xAxis(false), y: yAxis(RSI_MIN, RSI_MAX, rsiTicks, 2) },
    },
    plugins: [tagPlugin([[{ value: last, scale: 'y', text: last.toFixed(2), bg: '#7e57c2' }]], false)],
  } as any);
}

function makeMacdChart(canvas: HTMLCanvasElement) {
  const n = macdHist.length;
  const idx = dayIndex.slice(0, n);
  const histColors = macdHist.map((v, i) => {
    const prev = i > 0 ? macdHist[i - 1] : v;
    if (v >= 0) return v >= prev ? '#26a69a' : '#b2dfdb';
    return v < prev ? '#ff5252' : '#ffcdd2';
  });
  const lastHist = macdHist[n - 1];
  const lastMacd = macdLine[macdLine.length - 1][1];
  const lastSignal = signalLine[signalLine.length - 1][1];
  return new Chart(canvas, {
    type: 'bar',
    data: {
      datasets: [
        {
          type: 'bar',
          yAxisID: 'y',
          data: idx.map((d, i) => ({ x: d, y: macdHist[i] })),
          backgroundColor: histColors,
          barThickness: 2,
          grouped: false,
          borderWidth: 0,
          order: 3,
        },
        pairLine(macdLine, '#2196f3', 1.2, 2),
        pairLine(signalLine, '#ff6d00', 1.2, 1),
      ],
    },
    options: {
      ...baseOptions,
      scales: { x: xAxis(true), y: yAxis(MACD_MIN, MACD_MAX, macdTicks, 6) },
    },
    plugins: [
      tagPlugin(
        [
          [
            { value: lastHist, scale: 'y', text: lastHist.toFixed(6), bg: '#26a69a', anchor: true },
            { value: lastMacd, scale: 'y', text: lastMacd.toFixed(6), bg: '#2196f3' },
            { value: lastSignal, scale: 'y', text: lastSignal.toFixed(6), bg: '#ff6d00' },
          ],
        ],
        true
      ),
    ],
  } as any);
}

const legendBase: any = {
  position: 'absolute',
  left: 9,
  height: 16,
  lineHeight: '16px',
  fontFamily: FONT,
  fontSize: 12,
  color: '#2a2e39',
  whiteSpace: 'nowrap',
  pointerEvents: 'none',
  zIndex: 2,
};

function LegendRow(props: { top: number; name: string; values: { text: string; color: string; gap?: number }[] }) {
  return (
    <div style={{ ...legendBase, top: props.top }}>
      <span>{props.name}</span>
      {props.values.map((v, i) => (
        <span key={i} style={{ color: v.color, marginLeft: v.gap ?? 6 }}>
          {v.text}
        </span>
      ))}
    </div>
  );
}

export default function App() {
  const priceRef = useRef<HTMLCanvasElement>(null);
  const rsiRef = useRef<HTMLCanvasElement>(null);
  const macdRef = useRef<HTMLCanvasElement>(null);

  useEffect(() => {
    document.body.style.margin = '0';
    document.body.style.overflow = 'hidden';
    Chart.defaults.font.family = FONT;
    Chart.defaults.font.size = 12;
    Chart.defaults.color = TEXT;
    const charts = [
      makePriceChart(priceRef.current as HTMLCanvasElement),
      makeRsiChart(rsiRef.current as HTMLCanvasElement),
      makeMacdChart(macdRef.current as HTMLCanvasElement),
    ];
    return () => charts.forEach((c) => c.destroy());
  }, []);

  const ema50Last = ema50[ema50.length - 1][1];
  const ema100Last = ema100[ema100.length - 1][1];
  const ema200Last = ema200[ema200.length - 1][1];
  const rsiLast = rsi[rsi.length - 1][1];
  const histLast = macdHist[macdHist.length - 1];
  const macdLast = macdLine[macdLine.length - 1][1];
  const signalLast = signalLine[signalLine.length - 1][1];

  const ohlc = (letter: string, v: number) => (
    <span style={{ marginLeft: 6 }}>
      <span>{letter}</span>
      <span style={{ color: UP }}>{v.toFixed(6)}</span>
    </span>
  );

  return (
    <div style={{ position: 'absolute', left: 0, top: 0, width: W, height: 748, background: '#ffffff', overflow: 'hidden' }}>
      <canvas ref={priceRef} width={W} height={422} style={{ position: 'absolute', left: 0, top: 0, display: 'block' }} />
      <canvas ref={rsiRef} width={W} height={133} style={{ position: 'absolute', left: 0, top: 423, display: 'block' }} />
      <canvas ref={macdRef} width={W} height={191} style={{ position: 'absolute', left: 0, top: 557, display: 'block' }} />

      {/* pane separators and frame */}
      <div style={{ position: 'absolute', left: 0, top: 422, width: W, height: 1, background: '#e0e3eb' }} />
      <div style={{ position: 'absolute', left: 0, top: 556, width: W, height: 1, background: '#e0e3eb' }} />
      <div style={{ position: 'absolute', left: 0, top: 0, width: W, height: 1, background: '#e9ecf2' }} />
      <div style={{ position: 'absolute', left: 0, top: 0, width: 1, height: 748, background: '#e9ecf2' }} />
      <div style={{ position: 'absolute', left: 1743, top: 0, width: 3, height: 748, background: '#eef0f5' }} />

      {/* price legend */}
      <div style={{ ...legendBase, top: 7 }}>
        <span>XRP/USDT (Binance), 1D</span>
        {ohlc('O', LAST_OHLC.open)}
        {ohlc('H', LAST_OHLC.high)}
        {ohlc('L', LAST_OHLC.low)}
        {ohlc('C', LAST_OHLC.close)}
        <span style={{ color: UP, marginLeft: 6 }}>{LAST_CHANGE.toFixed(6)}</span>
        <span style={{ color: UP, marginLeft: 5 }}>(+{LAST_CHANGE_PCT.toFixed(2)}%)</span>
      </div>
      <LegendRow top={25} name="Volume" values={[{ text: LAST_VOLUME_TEXT, color: '#22ab94' }]} />
      <LegendRow top={42} name="EMA (50, close, 0)" values={[{ text: ema50Last.toFixed(6), color: '#f23645' }]} />
      <LegendRow top={59} name="EMA (100, close, 0)" values={[{ text: ema100Last.toFixed(6), color: '#2962ff' }]} />
      <LegendRow top={76} name="EMA (200, close, 0)" values={[{ text: ema200Last.toFixed(6), color: '#131722' }]} />

      {/* RSI legend */}
      <LegendRow top={430} name="RSI (14)" values={[{ text: rsiLast.toFixed(2), color: '#7e57c2' }]} />

      {/* MACD legend */}
      <LegendRow
        top={564}
        name="MACD (12, 26, close, 9)"
        values={[
          { text: histLast.toFixed(6), color: '#22ab94' },
          { text: macdLast.toFixed(6), color: '#2196f3' },
          { text: signalLast.toFixed(6), color: '#ff6d00' },
        ]}
      />
    </div>
  );
}
